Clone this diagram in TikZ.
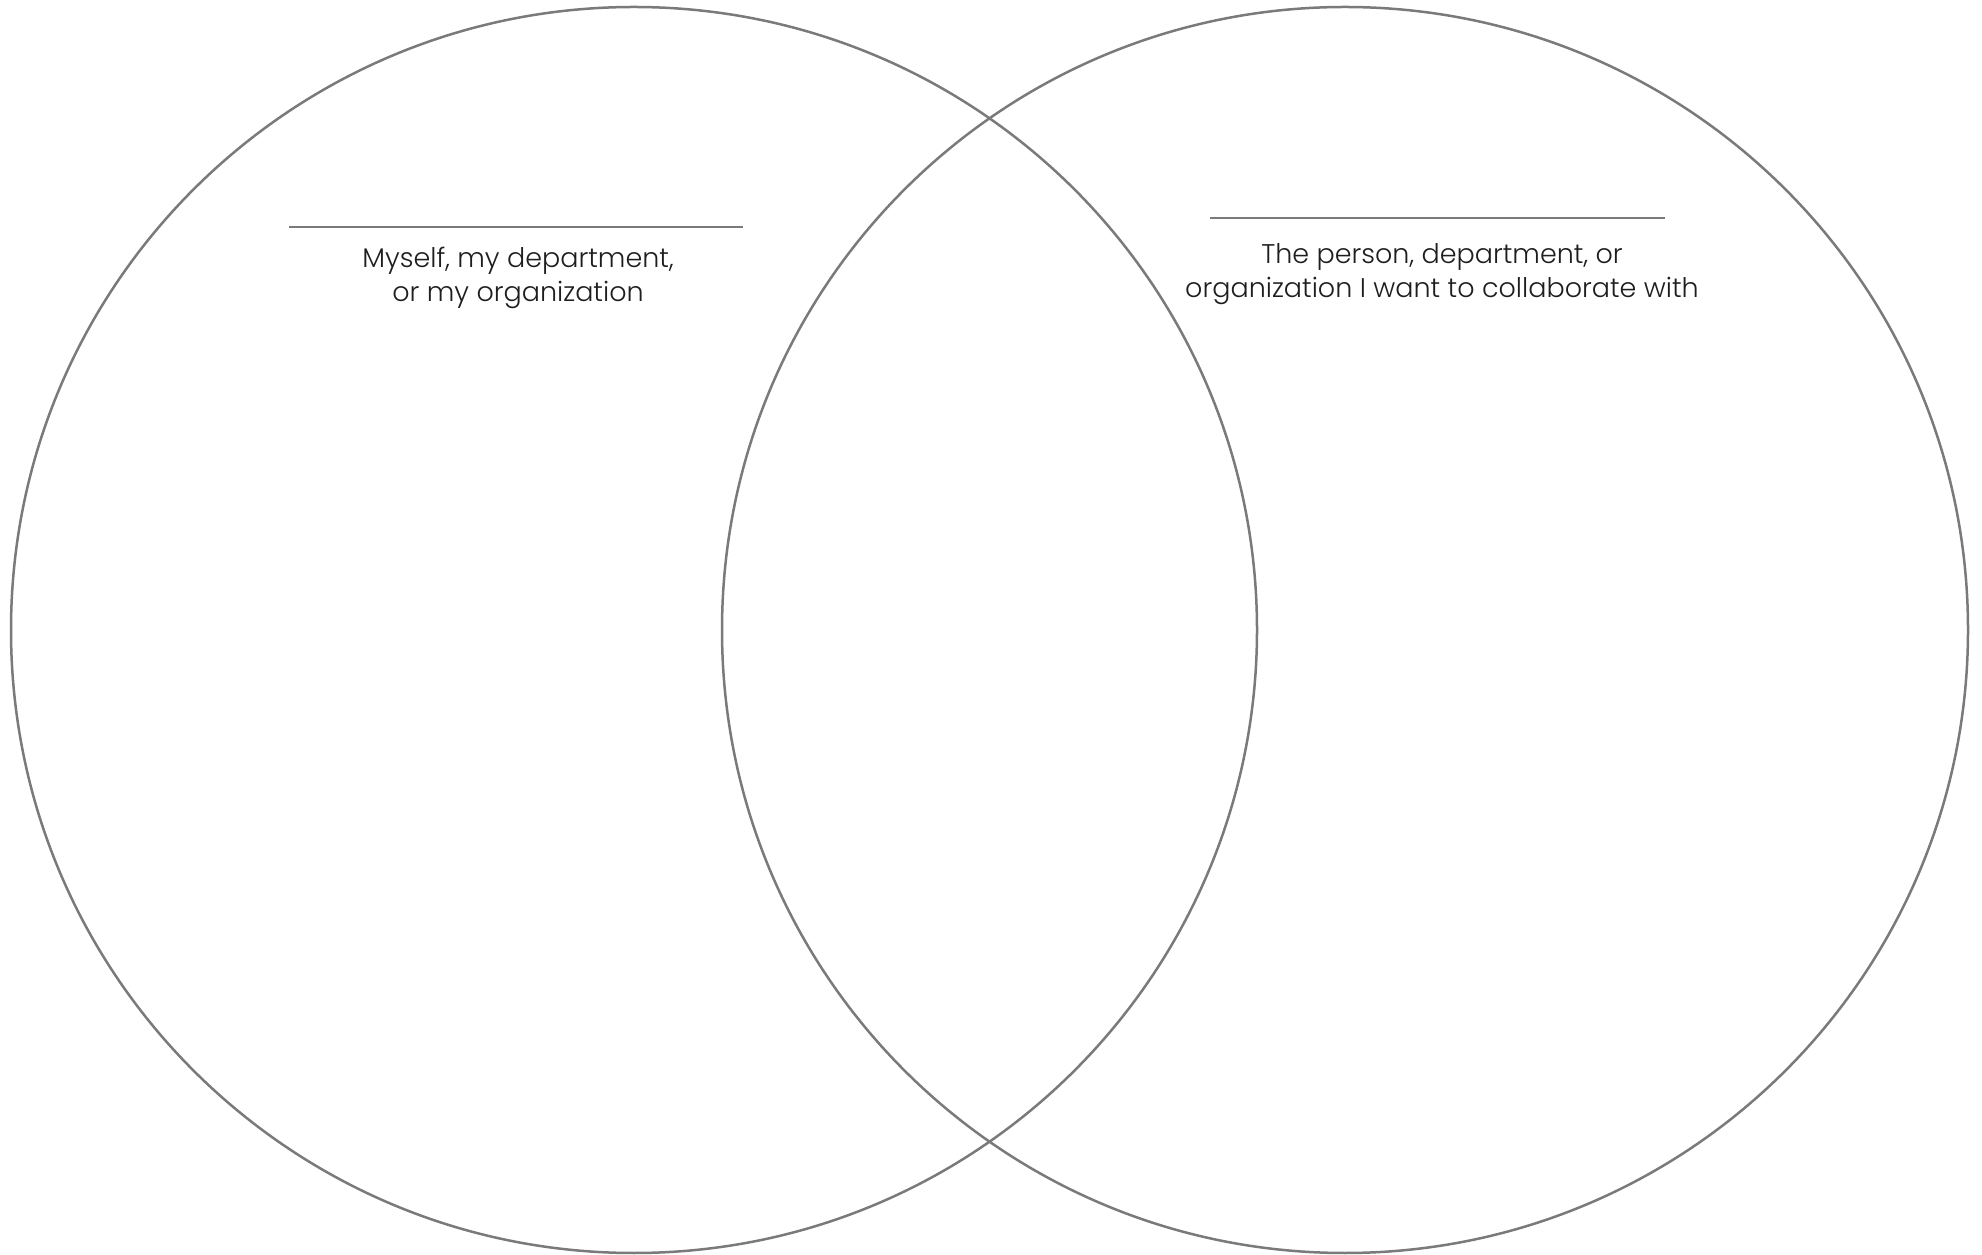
\documentclass[tikz,border=0pt]{standalone}
\usepackage{fontspec}
\setmainfont{Poppins Light}
\usepackage{xcolor}
\usepackage{tikz}
\usetikzlibrary{positioning}

\definecolor{ringgray}{RGB}{122,122,122}
\definecolor{labeltext}{RGB}{30,30,30}

\begin{document}
\begin{tikzpicture}[
  x=1pt, y=1pt,
  ring/.style={circle, draw=ringgray, line width=2.5pt, minimum size=1246pt, inner sep=0pt},
  rule/.style={draw=ringgray, line width=2.8pt},
  label/.style={align=center, inner sep=0pt, text=labeltext, font=\fontsize{27}{34}\selectfont}
]
\useasboundingbox (0,0) rectangle (1982,1254);

\node[ring] (self) at (634,624) {};
\node[ring] (partner) at (1345,624) {};

% blank lines to write names on
\coordinate (selfA) at (289,1027);
\coordinate (selfB) at (743,1027);
\coordinate (partnerA) at (1210,1036);
\coordinate (partnerB) at (1665,1036);
\draw[rule] (selfA) -- (selfB);
\draw[rule] (partnerA) -- (partnerB);

\node[label, anchor=north] (selfname) at (518,1007) {Myself, my department,\\or my organization};
\node[label, anchor=north] (partnername) at (1442,1011) {The person, department, or\\organization I want to collaborate with};

\end{tikzpicture}
\end{document}
